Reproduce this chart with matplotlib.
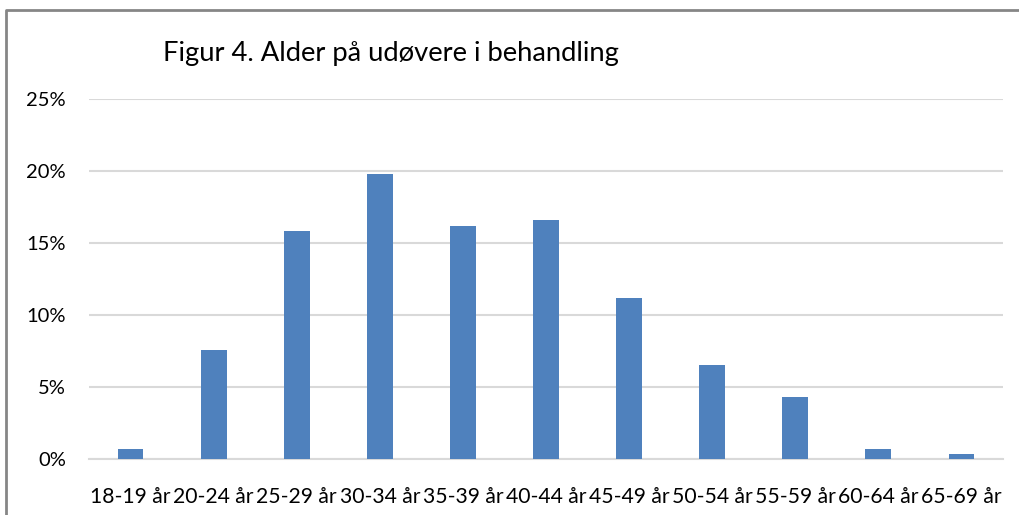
import matplotlib
matplotlib.use("Agg")
import matplotlib.pyplot as plt
from matplotlib.lines import Line2D
from matplotlib.ticker import PercentFormatter

# data
categories = ["18-19 år", "20-24 år", "25-29 år", "30-34 år", "35-39 år", "40-44 år",
              "45-49 år", "50-54 år", "55-59 år", "60-64 år", "65-69 år"]
shares = [0.7, 7.6, 15.8, 19.8, 16.2, 16.6, 11.2, 6.5, 4.3, 0.7, 0.35]
yticks = [0, 5, 10, 15, 20, 25]

W, H = 1019, 515
fig = plt.figure(figsize=(W / 100, H / 100), dpi=100)
plt.rcParams['font.family'] = ['Lato', 'DejaVu Sans']

ax = fig.add_axes([89 / W, 1 - 459 / H, 914 / W, 360 / H])
x = range(len(categories))
ax.bar(x, shares, width=0.31, color="#4f81bd", zorder=3)

ax.set_xlim(-0.5, len(categories) - 0.5)
ax.set_ylim(0, 25)
ax.set_yticks(yticks)
ax.yaxis.set_major_formatter(PercentFormatter(decimals=0))
ax.set_xticks(list(x))
ax.set_xticklabels(categories)
ax.tick_params(axis="y", length=0, pad=16.5, labelsize=14.5)
ax.tick_params(axis="x", length=0, pad=20, labelsize=15.2)
ax.grid(axis="y", color="#d9d9d9", lw=1.5, zorder=0)
for s in ["top", "right", "left"]:
    ax.spines[s].set_visible(False)
ax.spines["bottom"].set_color("#d9d9d9")
ax.spines["bottom"].set_linewidth(1.5)

fig.text(391 / W, 1 - 54 / H, "Figur 4. Alder på udøvere i behandling",
         ha="center", va="center", fontsize=19.7)

# outer chart frame (cropped on right and bottom)
bx, by = 6 / W, 1 - 10 / H
fig.add_artist(Line2D([bx, bx, 1], [0, by, by], transform=fig.transFigure,
                      color="#868686", lw=2))

fig.savefig("out.png", dpi=100)
